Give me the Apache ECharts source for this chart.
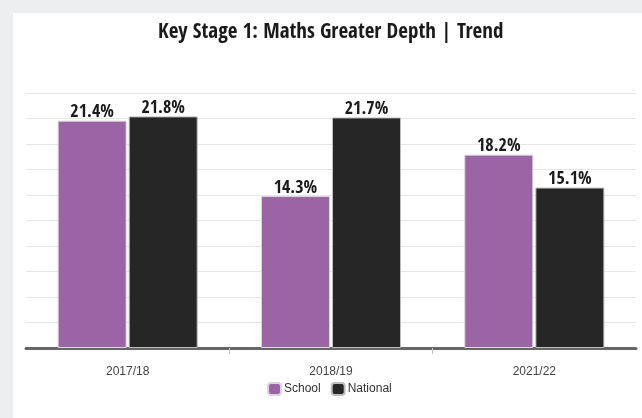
<!DOCTYPE html>
<html><head><meta charset="utf-8">
<script src="https://cdn.jsdelivr.net/npm/echarts@6/dist/echarts.min.js"></script>
<style>html,body{margin:0;padding:0;background:#fff}#c{width:642px;height:418px}</style>
</head><body><div id="c"></div>
<script>
const categories = ['2017/18', '2018/19', '2021/22'];
const schoolValues = [21.4, 14.3, 18.2];
const nationalValues = [21.8, 21.7, 15.1];
const titleText = 'Key Stage 1: Maths Greater Depth | Trend';

const chart = echarts.init(document.getElementById('c'), null, {renderer: 'canvas'});
const narrow = "'Open Sans Condensed', 'DejaVu Sans Condensed', sans-serif";
const labelCfg = {
  show: true, position: 'top', distance: -1,
  formatter: p => p.value.toFixed(1) + '%',
  fontFamily: narrow, fontWeight: 'bold', fontSize: 18, color: '#1a1a1a'
};
chart.setOption({
  animation: false,
  graphic: [
    {type: 'rect', z: -10, shape: {x: 0, y: 0, width: 642, height: 418}, style: {fill: '#eceef0'}},
    {type: 'rect', z: -9, shape: {x: 13, y: 13, width: 629, height: 405}, style: {fill: '#ffffff'}}
  ],
  title: {
    text: titleText, left: 153, top: 17,
    textStyle: {fontFamily: narrow, fontWeight: 'bold', fontSize: 21, color: '#1a1a1a'}
  },
  legend: {
    data: ['School', 'National'], bottom: 17, left: 262,
    itemWidth: 13, itemHeight: 12, itemGap: 10, icon: 'roundRect',
    textStyle: {fontFamily: 'Liberation Sans, Arial, sans-serif', fontSize: 12, color: '#333', padding: [0, 0, 0, -2]}
  },
  grid: {left: 26, right: 6, top: 93, bottom: 70},
  xAxis: [{
    type: 'category', data: categories,
    axisLine: {lineStyle: {color: '#666', width: 3}},
    axisTick: {show: false},
    axisLabel: {fontFamily: 'Liberation Sans, Arial, sans-serif', fontSize: 12, color: '#444', margin: 18}
  }, {
    type: 'value', min: 0, max: categories.length, position: 'bottom',
    axisLine: {show: false}, axisLabel: {show: false}, splitLine: {show: false},
    axisTick: {show: true, length: 6, customValues: [1, 2], lineStyle: {color: '#c0c8d0'}}
  }],
  yAxis: {
    type: 'value', min: 0, max: 24, interval: 2.4,
    axisLabel: {show: false}, axisLine: {show: false}, axisTick: {show: false},
    splitLine: {lineStyle: {color: '#e6e6e6', width: 1}}
  },
  series: [
    {name: 'School', type: 'bar', data: schoolValues, barWidth: 69, barGap: '3%',
     itemStyle: {color: '#9b64a4', borderColor: '#d8d8d8', borderWidth: 1}, label: labelCfg},
    {name: 'National', type: 'bar', data: nationalValues, barWidth: 69,
     itemStyle: {color: '#262626', borderColor: '#bdbdbd', borderWidth: 1}, label: labelCfg}
  ]
});
</script></body></html>
